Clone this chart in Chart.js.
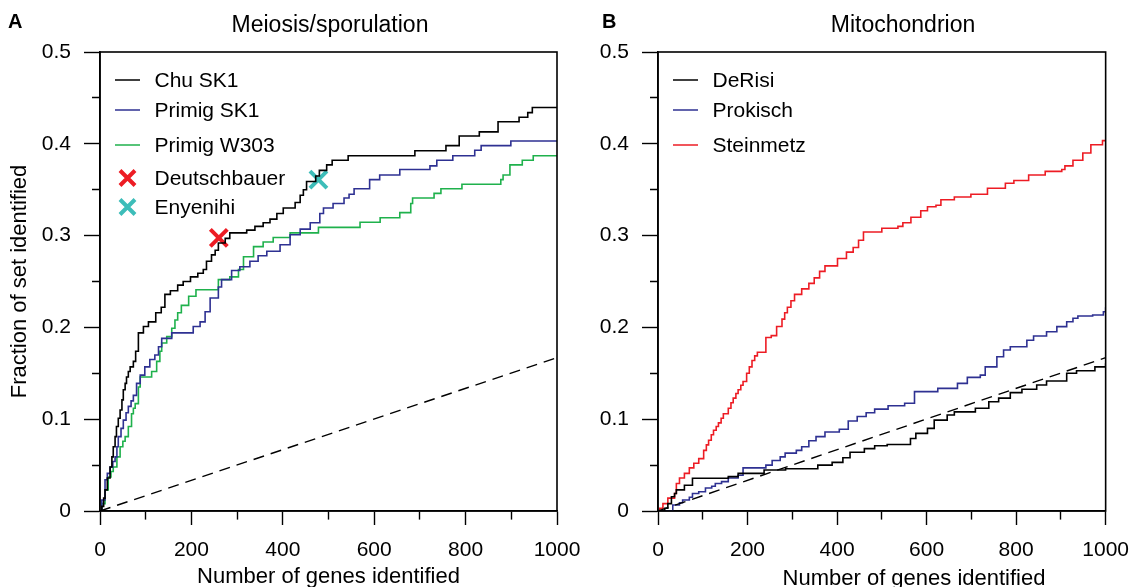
<!DOCTYPE html>
<html>
<head>
<meta charset="utf-8">
<script src="https://cdn.jsdelivr.net/npm/chart.js@4/dist/chart.umd.min.js"></script>
<style>
  body { margin: 0; background: #fff; font-family: "Liberation Sans", Arial, Helvetica, sans-serif; }
  #page { position: relative; width: 1142px; height: 587px; overflow: hidden; }
  canvas { position: absolute; top: 0; }
  .txt { position: absolute; color: #000; white-space: nowrap; }
  .panel { font-weight: bold; font-size: 20px; line-height: 20px; top: 11px; }
  .title { font-size: 23px; line-height: 23px; top: 12.5px; width: 300px; text-align: center; }
  .xtitle { font-size: 22px; line-height: 22px; top: 567px; width: 400px; text-align: center; }
  .legend-row { position: absolute; height: 32px; line-height: 32px; font-size: 21px; display: flex; align-items: center; color: #000; white-space: nowrap; }
</style>
</head>
<body>
<div id="page">
  <canvas id="chartA" width="600" height="587" style="left:0"></canvas>
  <canvas id="chartB" width="572" height="587" style="left:570px"></canvas>
  <div class="txt panel" style="left:8px">A</div>
  <div class="txt panel" style="left:602px">B</div>
  <div class="txt title" style="left:180px">Meiosis/sporulation</div>
  <div class="txt title" style="left:753px">Mitochondrion</div>
  <div class="txt xtitle" style="left:714px">Number of genes identified</div>
</div>
<script>
// --- tick labels ---
const xTickLabels = [0, 200, 400, 600, 800, 1000];
const yTickLabels = [0, 0.1, 0.2, 0.3, 0.4, 0.5];

// --- A. Meiosis/sporulation ---
const chuX = [0, 4, 8, 11, 16, 22, 26, 29, 33, 36, 40, 44, 48, 51, 55, 58, 62, 66, 73, 78, 84, 95, 106, 122, 134, 142, 154, 170,
  182, 198, 214, 226, 233, 244, 252, 259, 274, 284, 321, 339, 357, 372, 387, 401, 427, 438, 445, 452,
  472, 480, 496, 508, 543, 689, 757, 786, 830, 871, 917, 936, 946, 1000];
const chuY = [0, 0.005, 0.014, 0.023, 0.036, 0.048, 0.059, 0.070, 0.081, 0.092, 0.101, 0.110, 0.121, 0.132, 0.139, 0.146, 0.152, 0.157, 0.163, 0.174, 0.194, 0.201, 0.206, 0.216, 0.222, 0.236, 0.240, 0.246,
  0.250, 0.255, 0.259, 0.263, 0.272, 0.279, 0.284, 0.292, 0.297, 0.303, 0.306, 0.310, 0.314, 0.318, 0.324, 0.330, 0.336, 0.344, 0.350, 0.359,
  0.365, 0.371, 0.377, 0.382, 0.387, 0.3925, 0.398, 0.4085, 0.413, 0.424, 0.429, 0.434, 0.4395, 0.4395];

const primigSk1X = [0, 4, 11, 16, 22, 28, 33, 37, 40, 46, 51, 57, 62, 68, 73, 80, 88, 98, 109, 120, 128, 135, 157, 204, 219, 230,
  241, 259, 266, 288, 306, 328, 346, 365, 394, 416, 438, 460, 481, 489, 510, 534, 545, 556, 590, 612,
  656, 722, 737, 772, 820, 834, 899, 1000];
const primigSk1Y = [0, 0.012, 0.034, 0.041, 0.048, 0.054, 0.059, 0.070, 0.081, 0.090, 0.099, 0.107, 0.114, 0.120, 0.126, 0.139, 0.148, 0.157, 0.165, 0.170, 0.179, 0.188, 0.194, 0.201, 0.206, 0.217,
  0.232, 0.244, 0.252, 0.262, 0.266, 0.272, 0.278, 0.283, 0.290, 0.301, 0.307, 0.314, 0.324, 0.330, 0.335, 0.341, 0.345, 0.351, 0.361, 0.366,
  0.372, 0.376, 0.382, 0.387, 0.393, 0.398, 0.403, 0.403];

const primigW303X = [0, 4, 11, 18, 24, 29, 37, 44, 50, 55, 62, 69, 73, 77, 84, 88, 113, 124, 131, 135, 146, 157, 164,
  170, 178, 194, 210, 259, 284, 303, 314, 336, 357, 379, 416, 478, 569, 613, 656, 680, 684, 731, 746,
  792, 877, 882, 897, 924, 948, 1000];
const primigW303Y = [0, 0.008, 0.023, 0.037, 0.043, 0.048, 0.059, 0.070, 0.076, 0.081, 0.092, 0.106, 0.112, 0.117, 0.135, 0.146, 0.152, 0.163, 0.174, 0.183, 0.190, 0.199, 0.208,
  0.216, 0.224, 0.234, 0.241, 0.252, 0.255, 0.263, 0.277, 0.288, 0.293, 0.298, 0.303, 0.309, 0.3145, 0.3195, 0.325, 0.335, 0.341, 0.346, 0.351,
  0.356, 0.361, 0.366, 0.377, 0.382, 0.387, 0.387];

const deutschbauerX = [260];
const deutschbauerY = [0.2975];
const enyenihiX = [478];
const enyenihiY = [0.361];

// random expectation
const diagX = [0, 1000];
const diagY = [0, 0.167];

// --- B. Mitochondrion ---
const derisiX = [0, 15, 22, 30, 37, 41, 59, 77, 157, 179, 237, 285, 357, 389, 413, 429, 461, 484, 512, 564,
  576, 602, 617, 646, 662, 709, 739, 761, 787, 813, 846, 868, 913, 935, 976, 1000];
const derisiY = [0, 0.003, 0.008, 0.0156, 0.019, 0.023, 0.028, 0.0356, 0.0374, 0.041, 0.0447, 0.046, 0.050, 0.053, 0.058, 0.064, 0.068, 0.071, 0.0725, 0.079,
  0.0846, 0.090, 0.099, 0.1046, 0.108, 0.112, 0.119, 0.123, 0.129, 0.1326, 0.1373, 0.1416, 0.150, 0.1528, 0.157, 0.161];

const prokischX = [0, 25, 33, 48, 55, 70, 77, 91, 106, 120, 128, 142, 157, 179, 190, 241, 255, 273, 284, 309,
  321, 337, 353, 373, 405, 425, 445, 465, 484, 514, 551, 573, 625, 669, 691, 720, 731, 757, 772, 787,
  824, 839, 868, 891, 913, 927, 938, 971, 995, 1000];
const prokischY = [0, 0, 0.0065, 0.009, 0.012, 0.015, 0.019, 0.021, 0.025, 0.027, 0.030, 0.032, 0.036, 0.039, 0.047, 0.050, 0.055, 0.059, 0.063, 0.066,
  0.070, 0.0765, 0.081, 0.086, 0.089, 0.098, 0.103, 0.107, 0.111, 0.1147, 0.1173, 0.130, 0.1336, 0.139, 0.1456, 0.148, 0.157, 0.168, 0.1754, 0.179,
  0.186, 0.1906, 0.1953, 0.2008, 0.2062, 0.210, 0.2124, 0.2135, 0.217, 0.222];

const steinmetzX = [0, 4, 11, 22, 37, 41, 48, 59, 70, 80, 91, 102, 108, 113, 119, 124, 130, 135, 141, 146, 157, 163, 168, 174, 179, 185, 190,
  198, 204, 210, 216, 222, 241, 253, 265, 277, 283, 289, 297, 305, 321, 337, 349, 361, 373, 401, 421, 436, 448, 459, 500, 536,
  547, 565, 587, 602, 621, 632, 662, 699, 736, 776, 795, 828, 865, 902, 909, 927, 949, 967, 993, 1000];
const steinmetzY = [0, 0.003, 0.008, 0.014, 0.019, 0.030, 0.036, 0.041, 0.047, 0.052, 0.057, 0.066, 0.072, 0.077, 0.083, 0.088, 0.092, 0.096, 0.101, 0.106, 0.112, 0.118, 0.123, 0.128, 0.132, 0.137, 0.141,
  0.150, 0.157, 0.164, 0.169, 0.173, 0.189, 0.191, 0.201, 0.209, 0.216, 0.222, 0.229, 0.236, 0.242, 0.248, 0.254, 0.261, 0.267, 0.275, 0.282, 0.287, 0.295, 0.304, 0.308, 0.310,
  0.314, 0.320, 0.327, 0.3315, 0.333, 0.339, 0.342, 0.345, 0.3515, 0.357, 0.360, 0.366, 0.370, 0.372, 0.376, 0.382, 0.390, 0.399, 0.4035, 0.4035];

// legend rows (vertical centres, px)
const legendCentres = [80, 110, 144.5, 177.5, 207];

Chart.defaults.font.family = '"Liberation Sans", Arial, Helvetica, sans-serif';
Chart.defaults.color = '#000';

function pts(xs, ys) {
    return xs.map((x, i) => ({ x: x, y: ys[i] }));
}

function stepLine(label, xs, ys, color) {
    return { label: label, data: pts(xs, ys), borderColor: color, backgroundColor: color,
             borderWidth: 1.6, stepped: true, pointRadius: 0, fill: false };
}

function marker(label, xs, ys, color) {
    return { label: label, data: pts(xs, ys), showLine: false, borderColor: color, backgroundColor: color,
             pointStyle: 'crossRot', pointRadius: 12, pointBorderWidth: 4, pointBorderColor: color };
}

function diagonal() {
    return { label: '', data: pts(diagX, diagY), borderColor: '#000', borderWidth: 1.4,
             borderDash: [11, 7], pointRadius: 0, fill: false };
}

const isXMajor = v => xTickLabels.includes(v);
const isYMajor = v => yTickLabels.includes(Math.round(v * 100) / 100);

// box round the plot area (top and right sides)
const framePlugin = {
    id: 'frame',
    afterDraw(chart) {
        const a = chart.chartArea, c = chart.ctx;
        c.save();
        c.strokeStyle = '#000';
        c.lineWidth = 1.6;
        c.strokeRect(a.left, a.top, a.right - a.left, a.bottom - a.top);
        c.restore();
    }
};

function panelOptions(yWidth, rightPad, yTitle, xTitle) {
    return {
        responsive: false,
        animation: false,
        events: [],
        layout: { padding: { left: 0, top: 52, right: rightPad, bottom: 0 } },
        plugins: { legend: { display: false }, tooltip: { enabled: false } },
        scales: {
            x: {
                type: 'linear', min: 0, max: 1000,
                afterFit: s => { s.height = 76; },
                ticks: { stepSize: 100, autoSkip: false, maxRotation: 0, padding: 13, color: '#000',
                         font: { size: 21 }, callback: v => isXMajor(v) ? String(v) : '' },
                grid: { drawOnChartArea: false, tickLength: 14, tickColor: '#000', tickWidth: 1.4,
                        tickBorderDash: ctx => (ctx.tick && !isXMajor(ctx.tick.value)) ? [8, 40] : [] },
                border: { color: '#000', width: 1.6 },
                title: { display: !!xTitle, text: xTitle || '', color: '#000',
                         font: { size: 22, lineHeight: 1 }, padding: { top: 0, bottom: -1 } }
            },
            y: {
                min: 0, max: 0.5,
                afterFit: s => { s.width = yWidth; },
                ticks: { stepSize: 0.05, autoSkip: false, padding: 13, color: '#000', font: { size: 21 },
                         callback: v => isYMajor(v) ? String(Math.round(v * 10) / 10) : '' },
                grid: { drawOnChartArea: false, tickLength: 16, tickColor: '#000', tickWidth: 1.4,
                        tickBorderDash: ctx => (ctx.tick && !isYMajor(ctx.tick.value)) ? [0, 8, 8, 40] : [] },
                border: { color: '#000', width: 1.6 },
                title: { display: !!yTitle, text: yTitle || '', color: '#000',
                         font: { size: 22, lineHeight: 1 }, padding: { top: 9, bottom: 0 } }
            }
        }
    };
}

const chartA = new Chart(document.getElementById('chartA'), {
    type: 'line',
    data: {
        datasets: [
            diagonal(),
            stepLine('Chu SK1', chuX, chuY, '#000000'),
            stepLine('Primig SK1', primigSk1X, primigSk1Y, '#2e3192'),
            stepLine('Primig W303', primigW303X, primigW303Y, '#1fb14c'),
            marker('Deutschbauer', deutschbauerX, deutschbauerY, '#ed1c24'),
            marker('Enyenihi', enyenihiX, enyenihiY, '#3dbdb9')
        ]
    },
    options: panelOptions(100, 43, 'Fraction of set identified', 'Number of genes identified'),
    plugins: [framePlugin]
});

const chartB = new Chart(document.getElementById('chartB'), {
    type: 'line',
    data: {
        datasets: [
            diagonal(),
            stepLine('DeRisi', derisiX, derisiY, '#000000'),
            stepLine('Prokisch', prokischX, prokischY, '#2e3192'),
            stepLine('Steinmetz', steinmetzX, steinmetzY, '#ed1c24')
        ]
    },
    options: panelOptions(88, 26, '', ''),
    plugins: [framePlugin]
});

// HTML legend, built from the chart datasets
function buildLegend(chart, left) {
    const page = document.getElementById('page');
    chart.data.datasets.filter(d => d.label).forEach((d, i) => {
        const row = document.createElement('div');
        row.className = 'legend-row';
        row.style.left = left + 'px';
        row.style.top = (legendCentres[i] - 16) + 'px';
        const swatch = d.pointStyle === 'crossRot'
            ? `<svg width="25" height="20"><path d="M5 2.5 L20 17.5 M20 2.5 L5 17.5" stroke="${d.borderColor}" stroke-width="4"/></svg>`
            : `<svg width="25" height="20"><line x1="0" y1="10" x2="25" y2="10" stroke="${d.borderColor}" stroke-width="1.5"/></svg>`;
        row.innerHTML = swatch + `<span style="margin-left:14.5px">${d.label}</span>`;
        page.appendChild(row);
    });
}

buildLegend(chartA, chartA.chartArea.left + 15);
buildLegend(chartB, 570 + chartB.chartArea.left + 15);
</script>
</body>
</html>
